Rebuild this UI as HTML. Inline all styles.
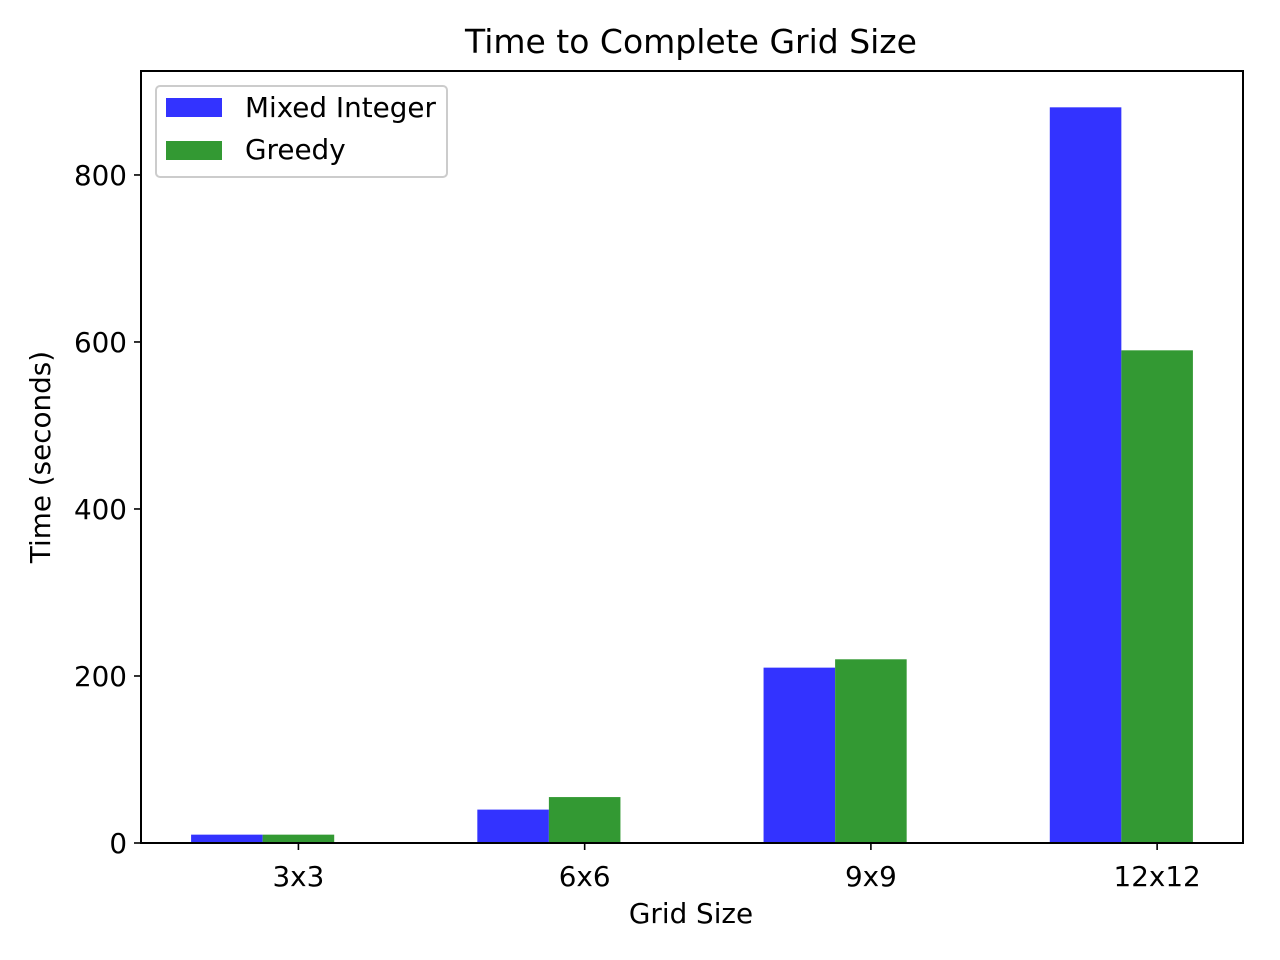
<!DOCTYPE html>
<html><head><meta charset="utf-8"><style>
body{margin:0;background:#fff;}
svg{display:block;font-family:"DejaVu Sans","Liberation Sans",sans-serif;}
</style></head><body>
<svg id="chart" width="1280" height="960">
<rect width="1280" height="960" fill="#fff"/>
<g id="bars"></g>
<rect x="141" y="71" width="1102" height="772" fill="none" stroke="#000" stroke-width="2"/>
<g id="ticks"></g>
<text x="691" y="53" font-size="33" text-anchor="middle">Time to Complete Grid Size</text>
<text x="691" y="923" font-size="27.8" text-anchor="middle">Grid Size</text>
<text x="50" y="457" font-size="27.8" text-anchor="middle" transform="rotate(-90 50 457)">Time (seconds)</text>
<g>
<rect x="156" y="86" width="291" height="91" rx="4" fill="#fff" fill-opacity="0.8" stroke="#ccc" stroke-width="2"/>
<rect x="166" y="98" width="56" height="19" fill="#3333ff"/>
<text x="245" y="117" font-size="27.8">Mixed Integer</text>
<rect x="166" y="141" width="56" height="19" fill="#339933"/>
<text x="245" y="159" font-size="27.8">Greedy</text>
</g>
</svg>
<script>
const categories = ["3x3","6x6","9x9","12x12"];
const mixedInteger = [10, 40, 210, 881];
const greedy = [10, 55, 220, 590];
const yTicks = [0, 200, 400, 600, 800];

const NS = "http://www.w3.org/2000/svg";
const L=141,R=1243,T=71,B=843, yMax=924.5;
const barW = 0.25;
const span = (categories.length-1) + 0.25 + barW;
const xMin = -barW/2 - 0.05*span, xMaxV = categories.length-1 + 0.25 + barW/2 + 0.05*span;
function xs(v){return L+(v-xMin)/(xMaxV-xMin)*(R-L);}
function ys(v){return B-v/yMax*(B-T);}
const bars=document.getElementById('bars'), ticks=document.getElementById('ticks');
function mk(tag,attrs,parent){const e=document.createElementNS(NS,tag);for(const k in attrs)e.setAttribute(k,attrs[k]);parent.appendChild(e);return e;}
const bw = xs(barW)-xs(0);
categories.forEach((c,i)=>{
  const b1=mk('rect',{x:xs(i-barW/2),y:ys(mixedInteger[i]),width:bw,height:ys(0)-ys(mixedInteger[i]),fill:'#3333ff'},bars);
  
  
  const b2=mk('rect',{x:xs(i+0.25-barW/2),y:ys(greedy[i]),width:bw,height:ys(0)-ys(greedy[i]),fill:'#339933'},bars);
  
  
  const x=xs(i+0.25);
  const tl=mk('line',{x1:x,x2:x,y1:B,y2:B+7,stroke:'#000','stroke-width':1.6},ticks);
  
  
  const t=mk('text',{x:x,y:B+43,'font-size':27.8,'text-anchor':'middle'},ticks);
  t.textContent=c;
  
  
});
yTicks.forEach(v=>{
  const y=ys(v);
  const tl=mk('line',{x1:L-7,x2:L,y1:y,y2:y,stroke:'#000','stroke-width':1.6},ticks);
  
  
  const t=mk('text',{x:L-14,y:y+10,'font-size':27.8,'text-anchor':'end'},ticks);
  t.textContent=v;
  
  
});
</script>
</body></html>
